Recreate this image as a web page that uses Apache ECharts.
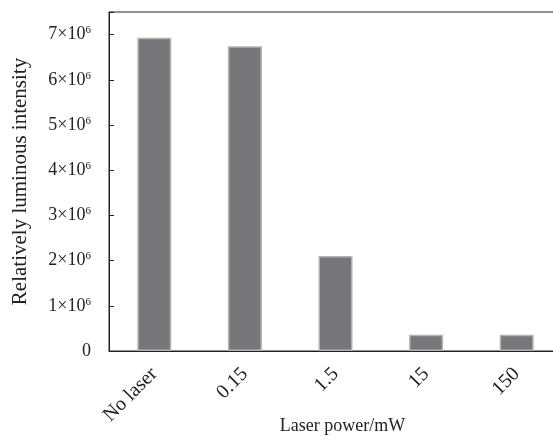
<!DOCTYPE html>
<html>
<head>
<meta charset="utf-8">
<script src="https://cdn.jsdelivr.net/npm/echarts@6/dist/echarts.min.js"></script>
<style>html,body{margin:0;padding:0;background:#fff;overflow:hidden;}#c{width:562px;height:448px;}</style>
</head>
<body>
<div id="c"></div>
<script>
var categories = ['No laser', '0.15', '1.5', '15', '150'];
var intensity = [6.93e6, 6.74e6, 2.1e6, 0.36e6, 0.36e6];
var yTicks = [0, 1e6, 2e6, 3e6, 4e6, 5e6, 6e6, 7e6];
var yMax = 7.5e6;
var yStep = 1e6;

var font = '"Liberation Serif", "Times New Roman", serif';
var chart = echarts.init(document.getElementById('c'), null, {renderer: 'canvas'});
chart.setOption({
  animation: false,
  backgroundColor: '#fff',
  grid: {left: 109, top: 12, right: 0, bottom: 97, show: true, borderColor: '#222', borderWidth: 1, backgroundColor: 'transparent'},
  xAxis: {
    type: 'category',
    data: categories,
    name: 'Laser power/mW',
    nameLocation: 'middle',
    nameGap: 66,
    nameMoveOverlap: false,
    nameTextStyle: {fontFamily: font, fontSize: 18, color: '#222', padding: [0, 0, 0, 14]},
    axisLine: {lineStyle: {color: '#222', width: 1}},
    axisTick: {show: true, inside: true, length: 5, alignWithLabel: true, lineStyle: {color: '#222'}},
    axisLabel: {rotate: 45, margin: 20, fontFamily: font, fontSize: 20, color: '#222', interval: 0}
  },
  yAxis: {
    type: 'value',
    min: 0,
    max: yMax,
    interval: yStep,
    name: 'Relatively luminous intensity',
    nameLocation: 'middle',
    nameGap: 78,
    nameMoveOverlap: false,
    nameTextStyle: {fontFamily: font, fontSize: 21, color: '#222'},
    splitLine: {show: false},
    axisLine: {show: true, lineStyle: {color: '#222', width: 1}},
    axisTick: {show: true, inside: true, length: 5, lineStyle: {color: '#222'}},
    axisLabel: {
      margin: 18,
      fontFamily: font, fontSize: 18, color: '#222',
      formatter: function (v) {
        if (yTicks.indexOf(v) < 0) return '';
        if (v === 0) return '0';
        return (v / 1e6) + '×10{sup|6}';
      },
      rich: {sup: {fontFamily: font, fontSize: 11, color: '#222', verticalAlign: 'top', padding: [0, 0, 8, 0]}}
    }
  },
  series: [{
    type: 'bar',
    data: intensity,
    barWidth: 34,
    itemStyle: {color: '#76777b', borderColor: '#b3b3b6', borderWidth: 1.5}
  }]
});
</script>
</body>
</html>
